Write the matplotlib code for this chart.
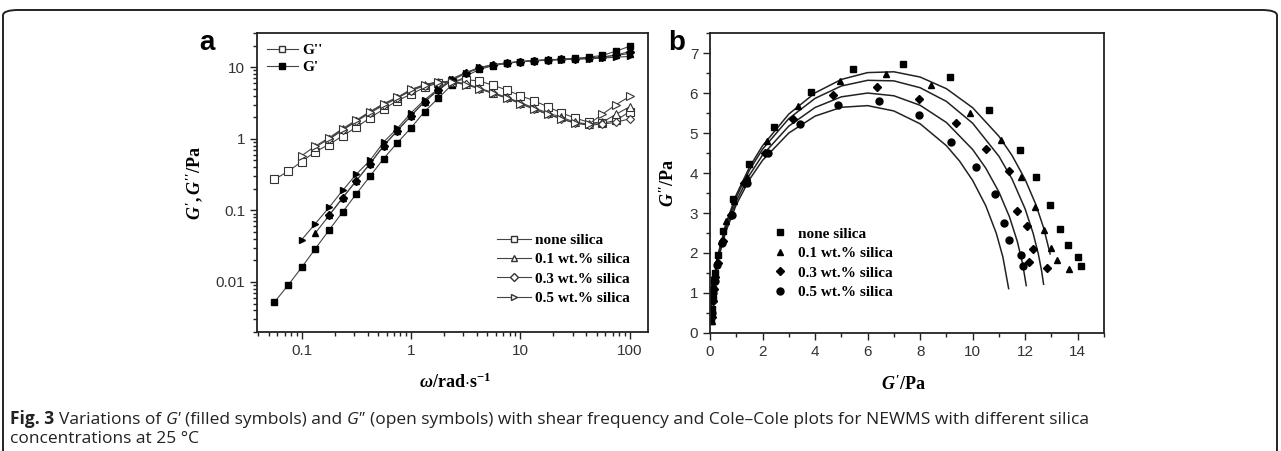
import numpy as np
import matplotlib.pyplot as plt
from matplotlib.lines import Line2D
from matplotlib.patches import FancyBboxPatch
from matplotlib.ticker import MultipleLocator, LogLocator, NullFormatter, FuncFormatter

plt.rcParams['mathtext.fontset'] = 'custom'
plt.rcParams['mathtext.it'] = 'Liberation Serif:italic:bold'
plt.rcParams['mathtext.rm'] = 'Liberation Serif:bold'
plt.rcParams['mathtext.bf'] = 'Liberation Serif:bold'

# ---------------- panel a data: frequency sweep ----------------
freq = [0.0562, 0.075, 0.1, 0.133, 0.178, 0.237, 0.316, 0.422, 0.562, 0.75,
        1.0, 1.33, 1.78, 2.37, 3.16, 4.22, 5.62, 7.5, 10, 13.3, 17.8, 23.7,
        31.6, 42.2, 56.2, 75, 100]

labels = ["none silica", "0.1 wt.% silica", "0.3 wt.% silica", "0.5 wt.% silica"]
markers = ["s", "^", "D", ">"]
start_idx = [0, 3, 4, 2]   # first frequency of each series

# storage modulus G'
g1_none = [0.0052, 0.009, 0.016, 0.029, 0.053, 0.095, 0.17, 0.30, 0.53, 0.88,
           1.42, 2.4, 3.7, 5.7, 7.5, 9.3, 10.5, 11.3, 11.9, 12.3, 12.6, 12.9,
           13.3, 13.8, 14.6, 16.7, 19.6]
g1_01 = [0.048, 0.085, 0.15, 0.26, 0.45, 0.8, 1.3, 2.1, 3.3, 4.8, 6.7, 8.3,
         9.8, 10.8, 11.5, 12.0, 12.4, 12.7, 12.9, 13.1, 13.4, 13.9, 14.6, 15.5]
g1_03 = [0.085, 0.15, 0.26, 0.45, 0.8, 1.3, 2.1, 3.3, 4.8, 6.6, 8.2, 9.7,
         10.7, 11.4, 11.9, 12.3, 12.6, 12.8, 13.0, 13.3, 13.8, 14.8, 16.5]
g1_05 = [0.039, 0.065, 0.11, 0.19, 0.32, 0.5, 0.9, 1.4, 2.3, 3.5, 5.0, 6.9,
         8.4, 9.9, 10.8, 11.4, 11.9, 12.2, 12.5, 12.7, 12.9, 13.1, 13.4, 13.8, 14.1]

# loss modulus G''
g2_none = [0.27, 0.35, 0.48, 0.66, 0.83, 1.1, 1.45, 1.96, 2.6, 3.4, 4.2, 5.2,
           6.05, 6.5, 6.7, 6.4, 5.6, 4.8, 4.0, 3.4, 2.8, 2.3, 1.95, 1.7, 1.65,
           1.8, 2.4]
g2_01 = [0.76, 1.0, 1.35, 1.78, 2.35, 3.0, 3.75, 4.8, 5.6, 6.2, 6.3, 5.9, 5.1,
         4.4, 3.8, 3.2, 2.7, 2.3, 2.0, 1.7, 1.6, 1.7, 2.2, 2.8]
g2_03 = [0.98, 1.32, 1.75, 2.3, 2.95, 3.7, 4.7, 5.5, 6.1, 6.2, 5.8, 5.0, 4.3,
         3.7, 3.1, 2.6, 2.2, 1.9, 1.65, 1.55, 1.6, 1.7, 1.9]
g2_05 = [0.58, 0.79, 1.03, 1.39, 1.82, 2.4, 3.1, 3.8, 4.9, 5.7, 6.3, 6.2, 5.7,
         5.0, 4.3, 3.7, 3.1, 2.6, 2.2, 1.9, 1.65, 1.6, 2.2, 3.0, 3.9]

g1_all = [g1_none, g1_01, g1_03, g1_05]
g2_all = [g2_none, g2_01, g2_03, g2_05]

# ---------------- panel b data: Cole-Cole ----------------
cc_x_none = [0.05, 0.08, 0.1, 0.13, 0.16, 0.2, 0.3, 0.5, 0.88, 1.5, 2.42, 3.85,
             5.45, 7.35, 9.15, 10.61, 11.79, 12.42, 12.95, 13.33, 13.62, 14.0, 14.13]
cc_y_none = [0.3, 0.6, 0.85, 1.1, 1.3, 1.5, 1.96, 2.55, 3.34, 4.22, 5.16, 6.02,
             6.6, 6.73, 6.41, 5.58, 4.57, 3.89, 3.19, 2.6, 2.19, 1.9, 1.67]
cc_x_01 = [0.06, 0.08, 0.1, 0.13, 0.18, 0.25, 0.4, 0.6, 0.9, 1.4, 2.16, 3.36,
           4.94, 6.69, 8.43, 9.89, 11.09, 11.85, 12.36, 12.7, 12.99, 13.22, 13.65]
cc_y_01 = [0.3, 0.6, 0.9, 1.2, 1.5, 1.8, 2.3, 2.8, 3.3, 3.89, 4.81, 5.67,
           6.3, 6.48, 6.2, 5.5, 4.82, 3.9, 3.16, 2.57, 2.13, 1.82, 1.6]
cc_x_03 = [0.07, 0.1, 0.14, 0.2, 0.3, 0.5, 0.8, 1.3, 2.09, 3.17, 4.69, 6.36,
           7.96, 9.38, 10.49, 11.4, 11.69, 12.08, 12.29, 12.14, 12.83]
cc_y_03 = [0.4, 0.8, 1.1, 1.4, 1.75, 2.3, 2.95, 3.75, 4.5, 5.35, 5.94, 6.15,
           5.85, 5.25, 4.6, 4.05, 3.05, 2.67, 2.11, 1.78, 1.63]
cc_x_05 = [0.08, 0.12, 0.18, 0.25, 0.45, 0.85, 1.42, 2.22, 3.42, 4.88, 6.44,
           7.96, 9.19, 10.14, 10.84, 11.2, 11.38, 11.83, 11.92]
cc_y_05 = [0.5, 1.0, 1.3, 1.7, 2.25, 2.95, 3.76, 4.5, 5.23, 5.69, 5.8, 5.45,
           4.77, 4.15, 3.47, 2.76, 2.32, 1.94, 1.67]

cc_x_all = [cc_x_none, cc_x_01, cc_x_03, cc_x_05]
cc_y_all = [cc_y_none, cc_y_01, cc_y_03, cc_y_05]
cc_markers = ["s", "^", "D", "o"]

# fitted arcs
fit1_x = [0.005, 0.02, 0.1, 0.3, 0.6, 1, 1.5, 2, 3, 4, 5, 6, 7, 8, 9, 10, 11,
          11.5, 12, 12.4, 12.7, 12.95]
fit1_y = [0.254, 0.508, 1.132, 1.945, 2.719, 3.454, 4.143, 4.681, 5.473, 6.003,
          6.339, 6.510, 6.530, 6.399, 6.108, 5.632, 4.918, 4.438, 3.835, 3.221,
          2.631, 1.976]
fit2_x = [0.005, 0.02, 0.1, 0.3, 0.6, 1, 1.5, 2, 3, 4, 5, 6, 7, 8, 9, 10, 11,
          11.5, 12, 12.3, 12.5, 12.62, 12.7]
fit2_y = [0.25, 0.5, 1.114, 1.914, 2.674, 3.395, 4.069, 4.594, 5.36, 5.866,
          6.175, 6.317, 6.303, 6.132, 5.79, 5.244, 4.418, 3.848, 3.098, 2.497,
          1.975, 1.569, 1.219]
fit3_x = [0.005, 0.02, 0.1, 0.3, 0.6, 1, 1.5, 2, 3, 4, 5, 6, 7, 8, 9, 10,
          10.5, 11, 11.4, 11.7, 11.9, 12.04]
fit3_y = [0.243, 0.486, 1.084, 1.861, 2.599, 3.297, 3.946, 4.448, 5.173, 5.638,
          5.904, 5.999, 5.931, 5.693, 5.263, 4.587, 4.12, 3.525, 2.905, 2.289,
          1.736, 1.186]
fit4_x = [0.005, 0.02, 0.1, 0.3, 0.6, 1, 1.5, 2, 3, 4, 5, 6, 7, 8, 9, 9.5, 10,
          10.5, 10.9, 11.15, 11.37]
fit4_y = [0.237, 0.475, 1.057, 1.816, 2.533, 3.209, 3.836, 4.316, 5.0, 5.422,
          5.643, 5.684, 5.551, 5.23, 4.683, 4.299, 3.814, 3.18, 2.492, 1.901,
          1.109]

W, H = 1281, 451
fig = plt.figure(figsize=(W / 100, H / 100), dpi=100)

# outer rounded frame
frame = FancyBboxPatch((3 / W, -0.05), 1274 / W, (H - 10) / H + 0.05,
                       boxstyle="round,pad=0,rounding_size=0.012",
                       transform=fig.transFigure, fill=False,
                       lw=1.4, ec="#222222")
fig.patches.append(frame)

serif_b = dict(family="Liberation Serif", weight="bold")
leg_prop = dict(family="Liberation Serif", weight="bold", size=11)
line_c = "#444444"

# ---------------- panel a ----------------
ax1 = fig.add_axes([257 / W, 1 - 332 / H, 391 / W, 299 / H])
for i in range(4):
    x = freq[start_idx[i]:]
    ax1.plot(x, g1_all[i], marker=markers[i], color=line_c, lw=0.8,
             mfc="black", mec="black", ms=4.8 if markers[i] != "D" else 4.2)
    ax1.plot(x, g2_all[i], marker=markers[i], color=line_c, lw=0.8,
             mfc="white", mec="#333333", mew=0.8,
             ms=5.2 if markers[i] != "D" else 4.4)

ax1.set_xscale("log")
ax1.set_yscale("log")
ax1.set_xlim(0.039, 147)
ax1.set_ylim(0.002, 30)
fmt = FuncFormatter(lambda v, _: f"{v:g}")
for axis in (ax1.xaxis, ax1.yaxis):
    axis.set_major_locator(LogLocator(base=10))
    axis.set_minor_locator(LogLocator(base=10, subs=np.arange(2, 10)))
    axis.set_major_formatter(fmt)
    axis.set_minor_formatter(NullFormatter())

ax1.set_ylabel(r"$G',G''$/Pa", fontsize=13, **serif_b)
ax1.yaxis.set_label_coords(-0.133, 0.5)
ax1.set_xlabel(r"$\omega$/rad$\cdot$s$^{-1}$", fontsize=13, **serif_b)
ax1.xaxis.set_label_coords(0.506, -0.137)

h_open = Line2D([], [], marker="s", color=line_c, lw=0.8, mfc="white",
                mec="#333333", ms=5)
h_fill = Line2D([], [], marker="s", color=line_c, lw=0.8, mfc="black",
                mec="black", ms=5)
leg1 = ax1.legend([h_open, h_fill], ["G''", "G'"], loc="upper left",
                  bbox_to_anchor=(0.018, 0.976), frameon=False, prop=leg_prop,
                  handlelength=2.0, handletextpad=0.3, labelspacing=0.25,
                  borderpad=0.2, borderaxespad=0)
ax1.add_artist(leg1)

h_leg = [Line2D([], [], marker=m, color=line_c, lw=0.8, mfc="white",
                mec="#333333", ms=5 if m != "D" else 4.4) for m in markers]
ax1.legend(h_leg, labels, loc="upper left", bbox_to_anchor=(0.61, 0.335),
           frameon=False, prop=leg_prop, handlelength=2.2, handletextpad=0.3,
           labelspacing=0.37, borderpad=0.1, borderaxespad=0)

# ---------------- panel b ----------------
ax2 = fig.add_axes([710 / W, 1 - 333 / H, 394 / W, 300 / H])
for fx, fy in [(fit1_x, fit1_y), (fit2_x, fit2_y), (fit3_x, fit3_y),
               (fit4_x, fit4_y)]:
    ax2.plot(fx, fy, color="#222222", lw=1.1)
for i in range(4):
    ax2.plot(cc_x_all[i], cc_y_all[i], ls="none", marker=cc_markers[i],
             color="black", ms=5 if cc_markers[i] != "D" else 4.4,
             label=labels[i])
ax2.set_xlim(0, 15)
ax2.set_ylim(0, 7.5)
ax2.xaxis.set_major_locator(MultipleLocator(2))
ax2.xaxis.set_minor_locator(MultipleLocator(1))
ax2.yaxis.set_major_locator(MultipleLocator(1))
ax2.yaxis.set_minor_locator(MultipleLocator(0.5))
ax2.set_ylabel(r"$G''$/Pa", fontsize=13, **serif_b)
ax2.yaxis.set_label_coords(-0.08, 0.5)
ax2.set_xlabel(r"$G'$/Pa", fontsize=13, **serif_b)
ax2.xaxis.set_label_coords(0.49, -0.14)
ax2.legend(loc="upper left", bbox_to_anchor=(0.151, 0.358), frameon=False,
           prop=leg_prop, handlelength=1.2, handletextpad=0.56,
           labelspacing=0.37, borderpad=0.1, borderaxespad=0)

for ax in (ax1, ax2):
    for s in ax.spines.values():
        s.set_linewidth(1.3)
        s.set_color("#222222")
    ax.tick_params(which="both", direction="out", top=False, right=False,
                   color="#222222", width=1.0)
    ax.tick_params(which="major", length=5)
    ax.tick_params(which="minor", length=3)
    for lab in ax.get_xticklabels() + ax.get_yticklabels():
        lab.set_fontfamily("Liberation Sans")
        lab.set_fontsize(11)
        lab.set_color("#333333")

fig.text(207 / W, 1 - 43 / H, "a", fontsize=20, weight="bold",
         family="Liberation Sans", ha="center", va="center")
fig.text(677 / W, 1 - 43 / H, "b", fontsize=20, weight="bold",
         family="Liberation Sans", ha="center", va="center")

# ---------------- caption (mixed styles) ----------------
fig.canvas.draw()
renderer = fig.canvas.get_renderer()
cap_size = 12.55

sp = fig.text(0, 0, "a a", fontsize=cap_size, family="Open Sans")
sp2 = fig.text(0, 0, "aa", fontsize=cap_size, family="Open Sans")
space_w = sp.get_window_extent(renderer).width - sp2.get_window_extent(renderer).width
sp.remove()
sp2.remove()


def draw_line(pieces, x0, y_px):
    x = x0
    for txt, weight, style, gap in pieces:
        t = fig.text(x / W, 1 - y_px / H, txt, fontsize=cap_size, weight=weight,
                     style=style, family=["Open Sans", "DejaVu Sans"],
                     va="baseline", color="#222222")
        x += t.get_window_extent(renderer).width + (space_w if gap else 0)


draw_line([("Fig. 3", "bold", "normal", True),
           ("Variations of", "normal", "normal", True),
           ("G'", "normal", "italic", True),
           ("(filled symbols) and", "normal", "normal", True),
           ('G"', "normal", "italic", True),
           ("(open symbols) with shear frequency and Cole\u2013Cole plots for "
            "NEWMS with different silica", "normal", "normal", False)],
          10, 424)
draw_line([("concentrations at 25 \u00b0C", "normal", "normal", False)], 10, 443)

fig.savefig("out.png", dpi=100)
